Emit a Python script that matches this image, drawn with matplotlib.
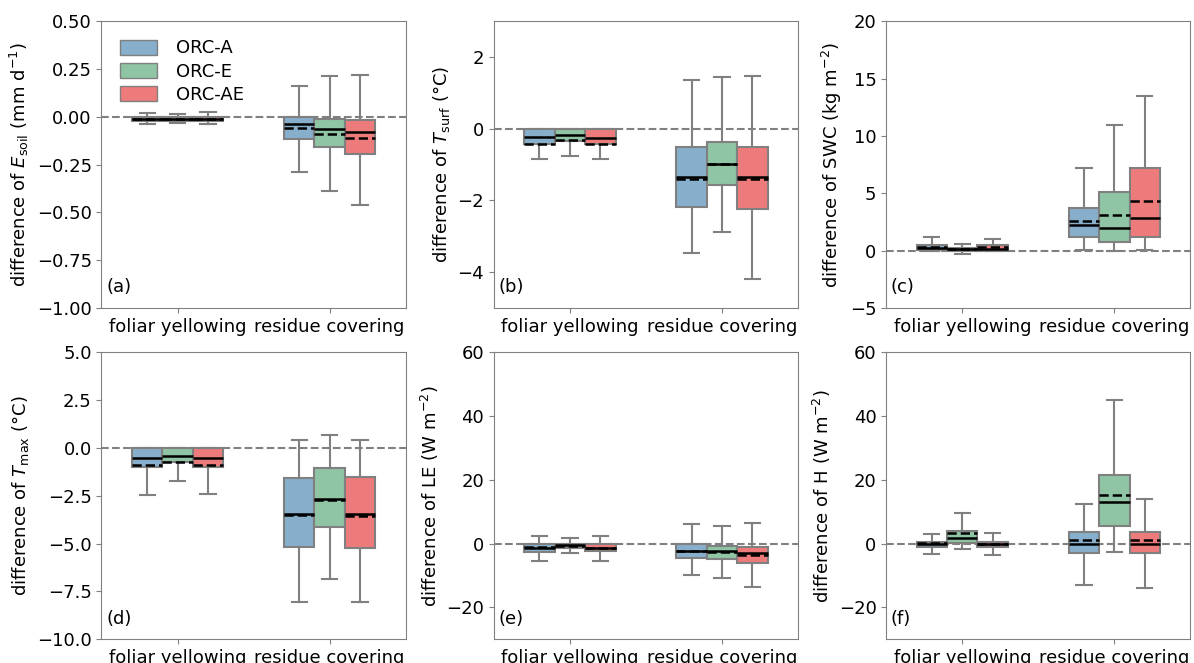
import matplotlib
matplotlib.use("Agg")
import numpy as np
from matplotlib import pyplot as plt
from matplotlib.patches import Patch

categories = ["foliar yellowing", "residue covering"]
models = ["ORC-A", "ORC-E", "ORC-AE"]
colors = ["#87aecb", "#8fc4a4", "#ee7b7b"]

# each entry: [whislo, q1, med, q3, whishi, mean] for (category, model)
esoil = [
    [[-0.04, -0.02, -0.01, 0.0, 0.02, -0.012], [-0.03, -0.02, -0.01, 0.0, 0.015, -0.012], [-0.04, -0.02, -0.01, 0.0, 0.025, -0.012]],
    [[-0.289, -0.117, -0.037, 0.0, 0.163, -0.057], [-0.387, -0.16, -0.065, -0.012, 0.212, -0.089], [-0.463, -0.195, -0.08, -0.016, 0.221, -0.11]],
]
tsurf = [
    [[-0.85, -0.43, -0.24, 0.0, 0.0, -0.42], [-0.75, -0.33, -0.18, -0.02, -0.02, -0.32], [-0.85, -0.43, -0.26, 0.0, 0.0, -0.42]],
    [[-3.46, -2.18, -1.34, -0.51, 1.35, -1.4], [-2.89, -1.57, -0.97, -0.36, 1.44, -0.97], [-4.2, -2.25, -1.34, -0.51, 1.46, -1.4]],
]
swc = [
    [[0.0, 0.05, 0.2, 0.5, 1.17, 0.3], [-0.3, -0.05, 0.1, 0.2, 0.55, 0.1], [-0.05, 0.0, 0.15, 0.45, 1.0, 0.3]],
    [[0.05, 1.22, 2.2, 3.75, 7.17, 2.61], [0.0, 0.78, 2.0, 5.14, 10.92, 3.1], [0.05, 1.17, 2.85, 7.17, 13.5, 4.3]],
]
tmax = [
    [[-2.46, -0.99, -0.54, 0.0, 0.0, -0.89], [-1.72, -0.71, -0.40, 0.0, 0.0, -0.73], [-2.42, -0.99, -0.54, 0.0, 0.0, -0.89]],
    [[-8.08, -5.17, -3.47, -1.57, 0.44, -3.5], [-6.88, -4.16, -2.68, -1.03, 0.68, -2.7], [-8.08, -5.24, -3.47, -1.52, 0.44, -3.55]],
]
le = [
    [[-5.4, -2.5, -1.36, 0.0, 2.4, -1.2], [-3.1, -1.46, -0.5, -0.2, 1.9, -0.8], [-5.6, -2.3, -1.25, -0.2, 2.4, -1.25]],
    [[-9.8, -4.4, -2.3, 0.0, 6.06, -2.4], [-10.8, -4.9, -2.3, -0.7, 5.5, -2.8], [-13.5, -6.2, -3.1, -1.0, 6.4, -3.5]],
]
h = [
    [[-3.3, -1.0, 0.0, 0.6, 2.9, 0.1], [-1.8, 0.2, 1.9, 4.0, 9.7, 3.2], [-3.5, -1.0, -0.2, 0.6, 3.2, -0.2]],
    [[-12.95, -3.1, -0.2, 3.55, 12.3, 1.15], [-2.8, 5.5, 12.95, 21.4, 45.0, 15.25], [-13.8, -3.0, 0.0, 3.66, 14.1, 1.25]],
]

panels = [
    (esoil, r"difference of $E_{\mathrm{soil}}$ (mm d$^{\mathrm{-1}}$)", (-1.0, 0.5), np.arange(-1.0, 0.51, 0.25), "(a)"),
    (tsurf, r"difference of $T_{\mathrm{surf}}$ (°C)", (-5, 3), [-4, -2, 0, 2], "(b)"),
    (swc, r"difference of SWC (kg m$^{\mathrm{-2}}$)", (-5, 20), np.arange(-5, 21, 5), "(c)"),
    (tmax, r"difference of $T_{\mathrm{max}}$ (°C)", (-10, 5), np.arange(-10, 5.1, 2.5), "(d)"),
    (le, r"difference of LE (W m$^{\mathrm{-2}}$)", (-30, 60), [-20, 0, 20, 40, 60], "(e)"),
    (h, r"difference of H (W m$^{\mathrm{-2}}$)", (-30, 60), [-20, 0, 20, 40, 60], "(f)"),
]

plt.rcParams["font.size"] = 13
fig, axes = plt.subplots(2, 3, figsize=(11.94, 6.63), dpi=100)
plt.subplots_adjust(left=0.085, right=0.997, top=0.968, bottom=0.036, wspace=0.29, hspace=0.155)

gray = "#808080"
width = 0.2
offsets = [-0.2, 0.0, 0.2]

for ax, (data, ylabel, ylim, yticks, tag) in zip(axes.flat, panels):
    ax.axhline(0, color=gray, linestyle="--", linewidth=1.5, zorder=0)
    for ci, cat in enumerate(data):
        for mi, s in enumerate(cat):
            stats = [dict(whislo=s[0], q1=s[1], med=s[2], q3=s[3], whishi=s[4], mean=s[5])]
            ax.bxp(stats, positions=[ci + 1 + offsets[mi]], widths=width,
                   patch_artist=True, showfliers=False, showmeans=True, meanline=True,
                   boxprops=dict(facecolor=colors[mi], edgecolor=gray, linewidth=1.5),
                   whiskerprops=dict(color=gray, linewidth=1.5),
                   capprops=dict(color=gray, linewidth=1.5),
                   medianprops=dict(color="black", linewidth=1.8),
                   meanprops=dict(color="black", linestyle="--", linewidth=1.8))
    ax.set_xlim(0.5, 2.5)
    ax.set_xticks([1, 2])
    ax.set_xticklabels(categories)
    ax.set_ylim(*ylim)
    ax.set_yticks(yticks)
    ax.set_ylabel(ylabel)
    for sp in ax.spines.values():
        sp.set_color(gray)
    ax.tick_params(color=gray)
    ax.text(0.015, 0.04, tag, transform=ax.transAxes, ha="left", va="bottom")

handles = [Patch(facecolor=c, edgecolor=gray, label=m) for c, m in zip(colors, models)]
axes[0, 0].legend(handles=handles, loc="upper left", frameon=False,
                  handlelength=2.1, handleheight=0.9, labelspacing=0.3,
                  handletextpad=1.0, borderaxespad=0.6)

fig.savefig("out.png")
